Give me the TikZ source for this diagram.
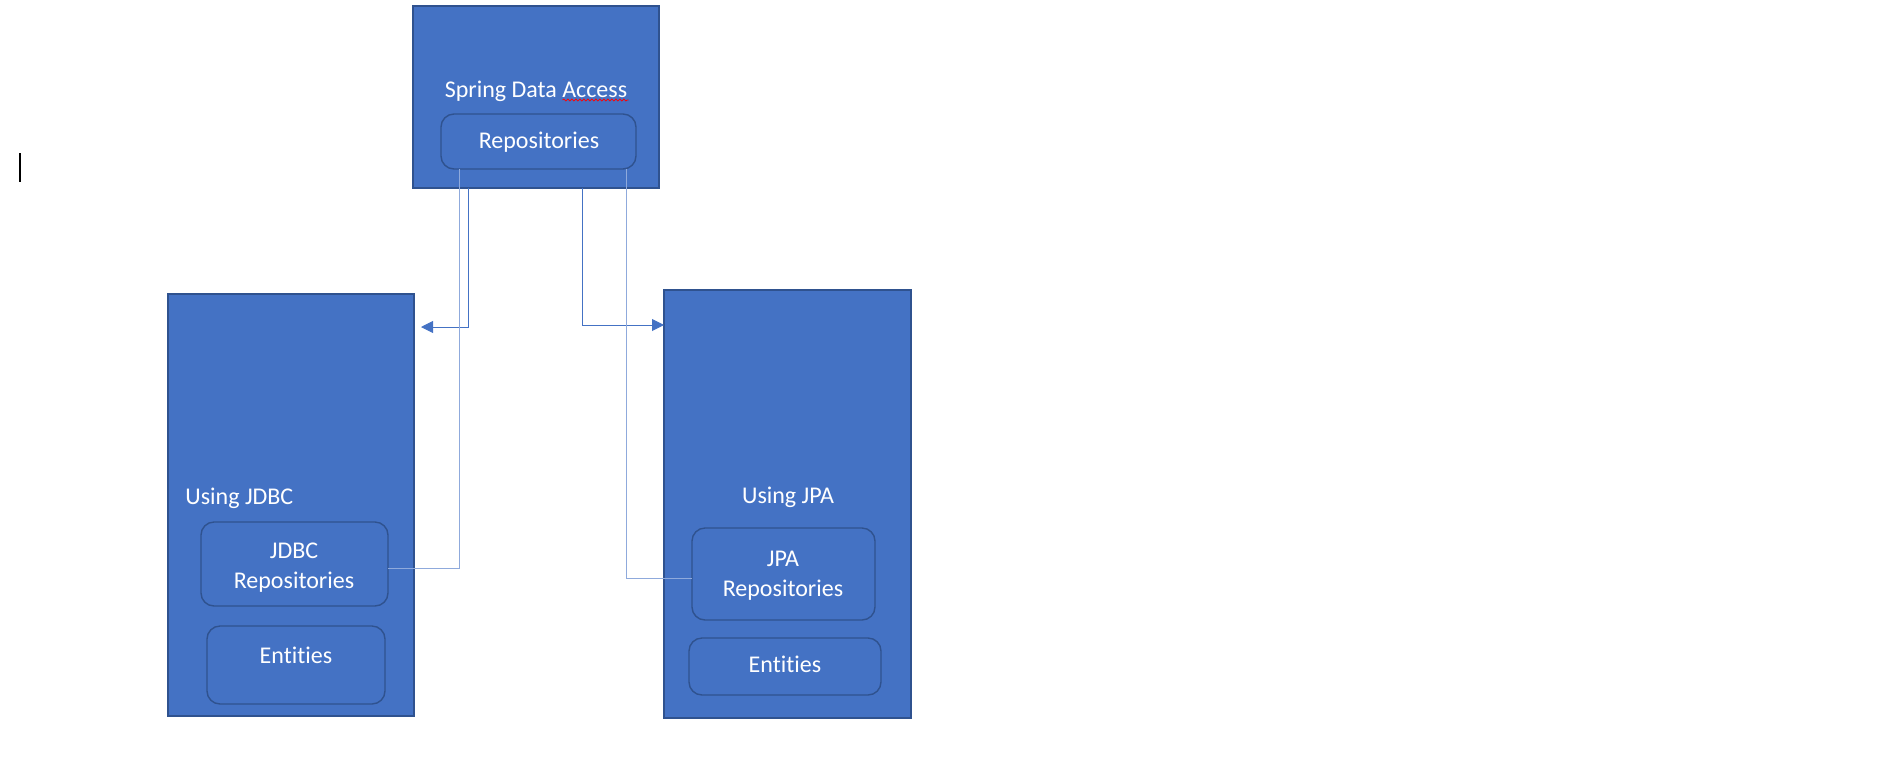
\documentclass[tikz,border=0pt]{standalone}
\usepackage{fontspec}
\setmainfont{Carlito}[Ligatures=NoCommon]
\usetikzlibrary{calc,arrows.meta,decorations.pathmorphing}
\newcommand*{\px}{0.5pt}
\definecolor{boxfill}{HTML}{4472C4}
\definecolor{boxline}{HTML}{2F528F}
\definecolor{linklight}{HTML}{8FAADC}
\tikzset{
	outerbox/.style n args={2}{
		rectangle,
		minimum width = #1*\px,
		minimum height = #2*\px,
		draw = boxline,
		fill = boxfill,
		line width = 0.8pt,
		inner sep = 0pt,
		outer sep = 0pt
	},
	innerbox/.style n args={2}{
		rectangle,
		rounded corners = 6.5pt,
		minimum width = #1*\px,
		minimum height = #2*\px,
		draw = boxline,
		fill = boxfill,
		line width = 0.7pt,
		inner sep = 0pt,
		outer sep = 0pt
	},
	boxtext/.style={
		text = white,
		anchor = base,
		align = center,
		font = \fontsize{12}{15}\selectfont,
		inner sep = 0pt
	},
	arrowlink/.style={
		draw = boxfill,
		line width = 0.45pt,
		-{Triangle[length=6pt,width=6pt]}
	},
	replink/.style={
		draw = linklight,
		line width = 0.5pt
	},
	spellmark/.style={
		draw = red,
		line width = 0.4pt,
		decorate,
		decoration = {snake, amplitude=0.5pt, segment length=2pt}
	}
	}

\begin{document}
\begin{tikzpicture}[x=\px, y=-\px]
	\useasboundingbox (0,0) rectangle (1901,778);
	% text cursor
	\draw[line width=0.6pt] (20,153) -- (20,182);
	% outer boxes
	\node (sda) [outerbox={246}{182}] at (536,97) {};
	\node (jdbc) [outerbox={246}{422}] at (291,505) {};
	\node (jpa) [outerbox={247}{428}] at (787.5,504) {};
	% inner boxes
	\node (repo) [innerbox={195}{55}] at (538.5,141.5) {};
	\node (jdbcrepo) [innerbox={187}{84}] at (294.5,564) {};
	\node (jdbcent) [innerbox={178}{78}] at (296,665) {};
	\node (jparepo) [innerbox={183}{92}] at (783.5,574) {};
	\node (jpaent) [innerbox={192}{57}] at (785,666.5) {};
	% texts
	\node (sdatxt) [boxtext] at (536,97) {Spring Data Access};
	\node (repotxt) [boxtext] at (539,148) {Repositories};
	\node (jdbctxt) [boxtext, anchor=base west] at (185,504) {Using JDBC};
	\node (jdbcrepotxt) [boxtext] at (294,588) {JDBC\\Repositories};
	\node (jdbcenttxt) [boxtext] at (296,663) {Entities};
	\node (jpatxt) [boxtext] at (788,503) {Using JPA};
	\node (jparepotxt) [boxtext] at (783,596) {JPA\\Repositories};
	\node (jpaenttxt) [boxtext] at (785,672) {Entities};
	\draw[spellmark] ($(sdatxt.base east)+(-65,3)$) -- ($(sdatxt.base east)+(1,3)$);
	% connectors
	\draw[arrowlink, shorten >=3.5pt] ([xshift=-34pt]sda.south) |- ([yshift=89pt]jdbc.east);
	\draw[arrowlink] ([xshift=23pt]sda.south) |- ([yshift=89.5pt]jpa.west);
	\draw[replink] ([xshift=9pt]repo.south west) |- ([yshift=-2pt]jdbcrepo.east);
	\draw[replink] ([xshift=-5pt]repo.south east) |- ([yshift=-2pt]jparepo.west);
\end{tikzpicture}
\end{document}
